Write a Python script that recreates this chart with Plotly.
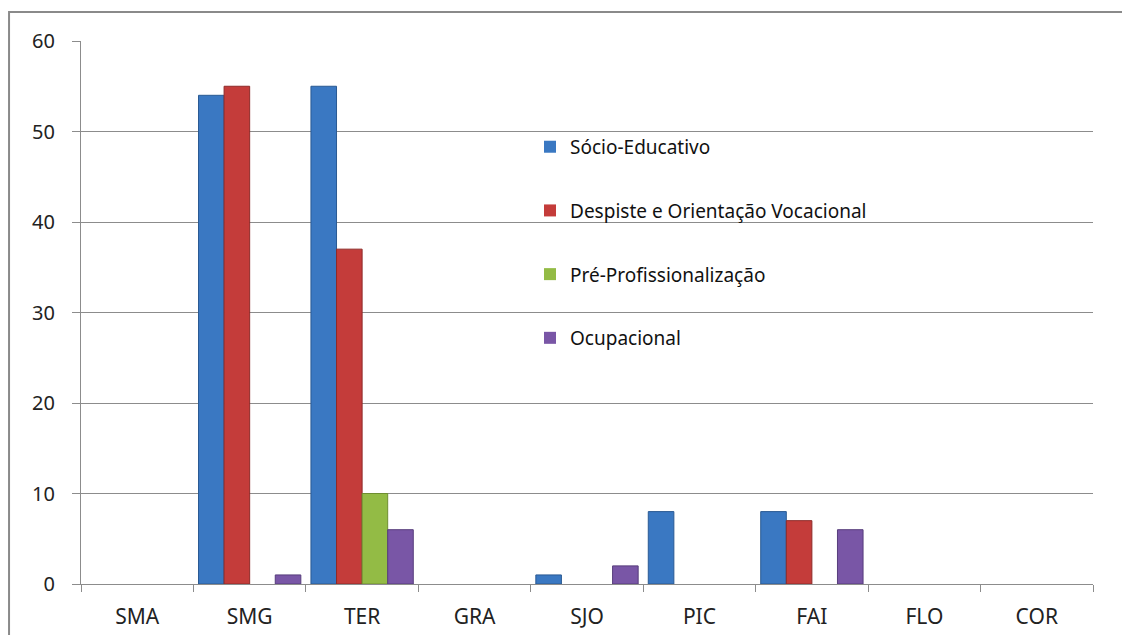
import plotly.graph_objects as go

# ====================================================
# DATA
# ====================================================
categories = ["SMA", "SMG", "TER", "GRA", "SJO", "PIC", "FAI", "FLO", "COR"]

socio_educativo = [0, 54, 55, 0, 1, 8, 8, 0, 0]
despiste_orientacao = [0, 55, 37, 0, 0, 0, 7, 0, 0]
pre_profissionalizacao = [0, 0, 10, 0, 0, 0, 0, 0, 0]
ocupacional = [0, 1, 6, 0, 2, 0, 6, 0, 0]

series_names = [
    "Sócio-Educativo",
    "Despiste e Orientação Vocacional",
    "Pré-Profissionalização",
    "Ocupacional",
]

# ====================================================
# COLORS
# ====================================================
fills = ["#3A78C2", "#C43C3A", "#93BB45", "#7956A6"]
edges = ["#2A5A93", "#8E2A29", "#6E8E30", "#573D7C"]

fig = go.Figure()

for name, vals, fc, ec in zip(series_names,
                              [socio_educativo, despiste_orientacao, pre_profissionalizacao, ocupacional],
                              fills, edges):
    fig.add_trace(go.Bar(
        x=categories, y=vals,
        name=name,
        legendgroup=name,
        # no outline on empty bars so they stay invisible
        marker=dict(color=fc, line=dict(color=ec, width=[1 if v > 0 else 0 for v in vals])),
    ))

# outer chart border
fig.add_shape(type="rect", xref="paper", yref="paper",
              x0=-0.0711, x1=1.1, y0=-0.2, y1=1.0534,
              line=dict(color="#8a8a8a", width=2), layer="below")

# the page body adds 8px, so the figure is 8px smaller than the window
fig.update_layout(
    width=1122, height=627,
    margin=dict(l=73, r=37, t=33, b=51),
    paper_bgcolor="white",
    plot_bgcolor="white",
    barmode="group",
    bargap=0.09,
    bargroupgap=0,
    font=dict(family="Noto Sans, DejaVu Sans, sans-serif", size=19, color="#222"),
    showlegend=True,
    legend=dict(
        x=0.4437, y=0.84, xanchor="left", yanchor="top",
        bgcolor="rgba(0,0,0,0)",
        font=dict(size=19, color="#111"),
        tracegroupgap=36,
        itemwidth=30,
    ),
    xaxis=dict(
        showline=True, linecolor="#8c8c8c", linewidth=1,
        ticks="outside", tickson="boundaries", ticklen=7, tickcolor="#8c8c8c",
        showgrid=False,
        tickfont=dict(size=21),
        ticklabelstandoff=14,
        automargin=False,
    ),
    yaxis=dict(
        range=[0, 60], dtick=10,
        showline=True, linecolor="#8c8c8c", linewidth=1,
        ticks="outside", ticklen=8, tickcolor="#8c8c8c",
        showgrid=True, gridcolor="#8c8c8c", gridwidth=1,
        zeroline=False,
        tickfont=dict(size=20),
        ticklabelstandoff=13,
        automargin=False,
    ),
)

fig.write_html("out.html")
